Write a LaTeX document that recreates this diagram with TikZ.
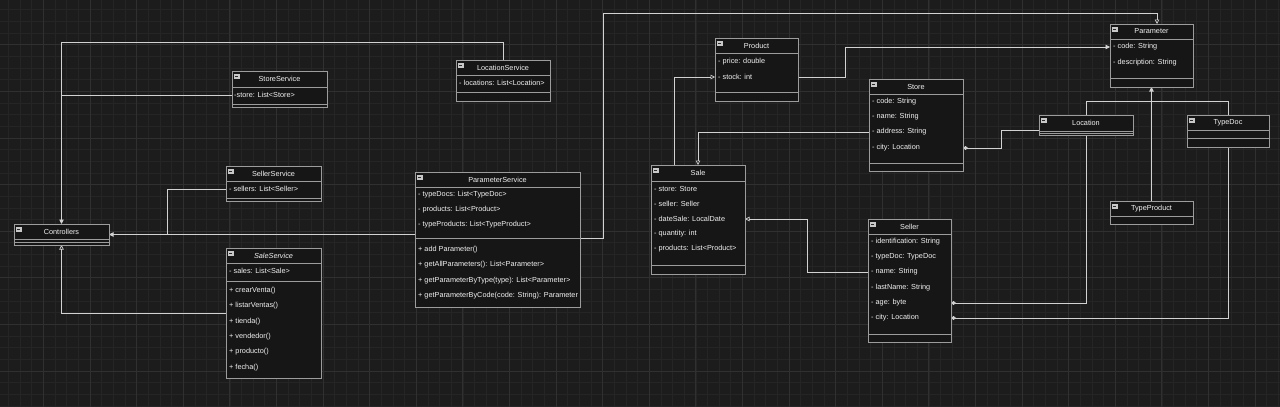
\documentclass[tikz,border=0pt]{standalone}
\usepackage{fontspec}
\setmainfont{Liberation Sans}
\usetikzlibrary{arrows.meta,fit}
\definecolor{bgc}{HTML}{1C1C1C}
\definecolor{gridminor}{HTML}{252525}
\definecolor{gridmajor}{HTML}{303030}
\definecolor{boxfill}{HTML}{161616}
\definecolor{boxline}{HTML}{9C9C9C}
\definecolor{connc}{HTML}{D2D2D2}
\definecolor{txtc}{HTML}{F2F2F2}
\definecolor{icongray}{HTML}{C8C8C8}
\definecolor{icondark}{HTML}{2A2A2A}
\tikzset{
  every node/.style={font=\fontsize{7.3}{8.5}\selectfont, text=txtc},
  clsbox/.style={draw=boxline, fill=boxfill, line width=0.7pt, inner sep=0pt, outer sep=0pt, rectangle},
  hdrline/.style={draw=boxline, line width=0.7pt},
  sepline/.style={draw=boxline, line width=0.7pt},
  clstitle/.style={inner sep=0pt},
  attr/.style={anchor=west, inner sep=0pt},
  clsicon/.style={rectangle, fill=icongray, draw=icongray, line width=0.3pt, minimum size=4.6pt, inner sep=0pt},
  icondash/.style={draw=icondark, line width=0.9pt, shorten <=0.9pt, shorten >=0.9pt},
  conn/.style={draw=connc, line width=0.7pt},
  tipF/.style={-{Triangle[length=4.5pt,width=4.5pt]}},
  tipO/.style={-{Triangle[open,length=4.5pt,width=4.5pt]}},
  dia/.style={{Diamond[length=5pt,width=4pt]}-},
}
\newcommand\mkclass[8][]{%
  \node[clsbox, fit={(#3,#4)(#5,#6)}] (#2) {};
  \draw[hdrline] (#3,#7) -- (#5,#7);
  \node[clstitle,#1] (#2-title) at ({(#3+#5)/2},{(#4+#7)/2}) {#8};
  \node[clsicon] (#2-icon) at ({#3+4.8},{#4+5}) {};
  \draw[icondash] (#2-icon.west) -- (#2-icon.east);
}
\newcommand\mksep[3]{\draw[sepline] (#1,#3) -- (#2,#3);}
\newcommand\mkattr[4]{\node[attr] (#1) at (#2,#3) {#4};}
\begin{document}
\begin{tikzpicture}[x=1pt,y=-1pt]
\useasboundingbox (0,0) rectangle (1280,407);
\fill[bgc] (0,0) rectangle (1280,407);
\draw[gridminor, line width=0.4pt, step=11.65pt, xshift=-3.3pt, yshift=2pt] (0,0) grid (1290,417);
\draw[gridmajor, line width=0.5pt, step=46.6pt, xshift=-3.3pt, yshift=2pt] (0,0) grid (1290,417);

% ---- connectors (drawn first, under boxes) ----
\coordinate (ss-w) at (232,95);
\coordinate (j-ss) at (61.5,95);
\coordinate (ls-top) at (503,60);
\coordinate (sls-w) at (226,189);
\coordinate (j-sls) at (167,234.5);
\coordinate (sas-w) at (226,313);
\coordinate (ps-w) at (415,234.5);
\coordinate (ps-e) at (580,238);
\coordinate (par-top) at (1157,24);
\coordinate (prod-e) at (798,77);
\coordinate (par-w) at (1110,47);
\coordinate (prod-w) at (715,77);
\coordinate (sale-n1) at (674,165);
\coordinate (sale-n2) at (698,165);
\coordinate (store-w) at (869,132);
\coordinate (store-city) at (963,148);
\coordinate (loc-w) at (1039,130);
\coordinate (sel-age) at (951,303);
\coordinate (sel-city) at (951,318);
\coordinate (sel-name) at (868,272);
\coordinate (sale-date) at (745,219);
\coordinate (loc-n) at (1086,115);
\coordinate (loc-s) at (1086,135);
\coordinate (td-n) at (1228,115);
\coordinate (td-s) at (1228,147);
\coordinate (tp-n) at (1151.5,201);
\coordinate (par-s) at (1151.5,87);

\draw[conn, tipF] (ls-top) -- (503,42) -- (61.5,42) -- (61.5,224);
\draw[conn] (ss-w) -- (j-ss);
\draw[conn, tipF] (ps-w) -- (109,234.5);
\draw[conn] (sls-w) -| (j-sls);
\draw[conn, tipO] (sas-w) -| (61.5,245);
\draw[conn, tipO] (ps-e) -- (603,238) -- (603,13) -| (par-top);
\draw[conn, tipF] (prod-e) -- (845,77) |- (par-w);
\draw[conn, tipO] (sale-n1) |- (prod-w);
\draw[conn, tipO] (store-w) -| (sale-n2);
\draw[conn, dia] (store-city) -- (1001,148) |- (loc-w);
\draw[conn, dia] (sel-age) -| (loc-s);
\draw[conn, dia] (sel-city) -| (td-s);
\draw[conn, tipO] (sel-name) -- (807,272) |- (sale-date);
\draw[conn] (loc-n) |- (1228,101) -- (td-n);
\draw[conn, tipF] (tp-n) -- (par-s);

% ---- classes ----
\mkclass{StoreService}{232}{71}{327}{107}{87}{StoreService}
\mksep{232}{327}{104}
\mkattr{ss-a1}{234}{95}{-store: List<Store>}

\mkclass{SellerService}{226}{166}{321}{201}{181}{SellerService}
\mksep{226}{321}{198}
\mkattr{sls-a1}{229}{189}{- sellers: List<Seller>}

\mkclass{Controllers}{14}{224}{109}{245}{239}{Controllers}
\mksep{14}{109}{242}

\mkclass[font=\fontsize{7.3}{8.5}\selectfont\itshape]{SaleService}{226}{248}{321}{378}{263}{SaleService}
\mksep{226}{321}{281}
\mkattr{sas-a1}{229}{271}{- sales: List<Sale>}
\mkattr{sas-m1}{229}{291}{+ crearVenta()}
\mkattr{sas-m2}{229}{306}{+ listarVentas()}
\mkattr{sas-m3}{229}{322}{+ tienda()}
\mkattr{sas-m4}{229}{337}{+ vendedor()}
\mkattr{sas-m5}{229}{352}{+ producto()}
\mkattr{sas-m6}{229}{368}{+ fecha()}

\mkclass{LocationService}{456}{60}{550}{101}{75}{LocationService}
\mksep{456}{550}{92}
\mkattr{ls-a1}{459}{83}{- locations: List<Location>}

\mkclass{ParameterService}{415}{172}{580}{307}{187}{ParameterService}
\mksep{415}{580}{238}
\mkattr{ps-a1}{418}{195}{- typeDocs: List<TypeDoc>}
\mkattr{ps-a2}{418}{210}{- products: List<Product>}
\mkattr{ps-a3}{418}{225}{- typeProducts: List<TypeProduct>}
\mkattr{ps-m1}{418}{250}{+ add Parameter()}
\mkattr{ps-m2}{418}{265}{+ getAllParameters(): List<Parameter>}
\mkattr{ps-m3}{418}{281}{+ getParameterByType(type): List<Parameter>}
\mkattr{ps-m4}{418}{296}{+ getParameterByCode(code: String): Parameter}

\mkclass{Product}{715}{38}{798}{101}{53}{Product}
\mksep{715}{798}{92}
\mkattr{prod-a1}{718}{62}{- price: double}
\mkattr{prod-a2}{718}{77}{- stock: int}

\mkclass{Sale}{651}{165}{745}{274}{181}{Sale}
\mksep{651}{745}{265}
\mkattr{sale-a1}{654}{189}{- store: Store}
\mkattr{sale-a2}{654}{204}{- seller: Seller}
\mkattr{sale-a3}{654}{219}{- dateSale: LocalDate}
\mkattr{sale-a4}{654}{234}{- quantity: int}
\mkattr{sale-a5}{654}{249}{- products: List<Product>}

\mkclass{Store}{869}{79}{963}{171}{94}{Store}
\mksep{869}{963}{163}
\mkattr{store-a1}{872}{102}{- code: String}
\mkattr{store-a2}{872}{117}{- name: String}
\mkattr{store-a3}{872}{132}{- address: String}
\mkattr{store-a4}{872}{148}{- city: Location}

\mkclass{Seller}{868}{219}{951}{342}{234}{Seller}
\mksep{868}{951}{334}
\mkattr{sel-a1}{871}{242}{- identification: String}
\mkattr{sel-a2}{871}{257}{- typeDoc: TypeDoc}
\mkattr{sel-a3}{871}{272}{- name: String}
\mkattr{sel-a4}{871}{288}{- lastName: String}
\mkattr{sel-a5}{871}{303}{- age: byte}
\mkattr{sel-a6}{871}{318}{- city: Location}

\mkclass{Parameter}{1110}{24}{1193}{87}{39}{Parameter}
\mksep{1110}{1193}{78}
\mkattr{par-a1}{1113}{47}{- code: String}
\mkattr{par-a2}{1113}{63}{- description: String}

\mkclass{Location}{1039}{115}{1133}{135}{131}{Location}
\mksep{1039}{1133}{133}

\mkclass{TypeDoc}{1187}{115}{1269}{147}{130}{TypeDoc}
\mksep{1187}{1269}{138}

\mkclass{TypeProduct}{1110}{201}{1193}{224}{216}{TypeProduct}
\end{tikzpicture}
\end{document}
